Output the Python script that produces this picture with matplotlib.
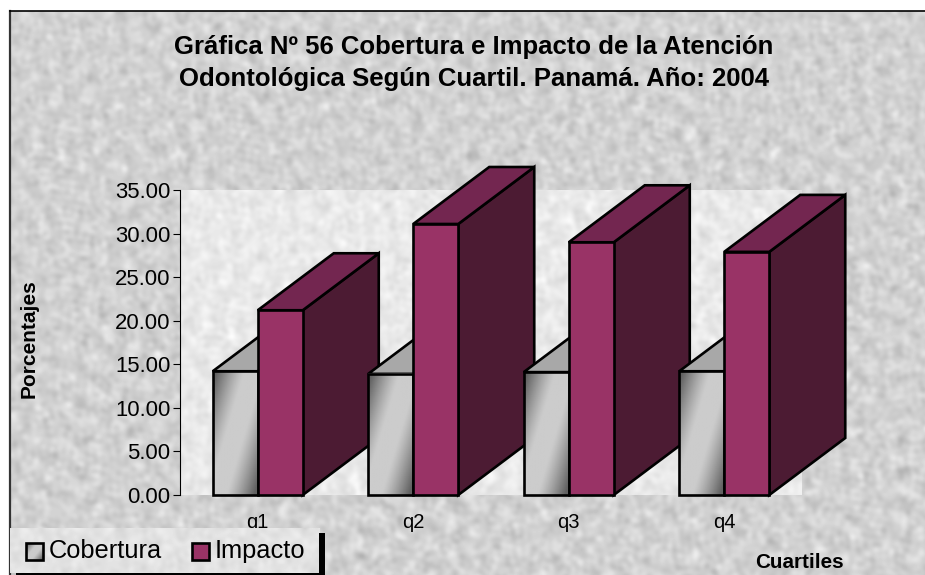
import numpy as np
import matplotlib
matplotlib.use("Agg")
import matplotlib.pyplot as plt
from matplotlib.patches import Polygon, Rectangle

plt.rcParams['font.family'] = ['Liberation Sans', 'DejaVu Sans']

categories = ['q1', 'q2', 'q3', 'q4']
cobertura = [14.2, 13.9, 14.1, 14.2]
impacto = [21.2, 31.1, 29.0, 27.9]
series_names = ['Cobertura', 'Impacto']
yticks = [0, 5, 10, 15, 20, 25, 30, 35]
title = 'Gráfica Nº 56 Cobertura e Impacto de la Atención\nOdontológica Según Cuartil. Panamá. Año: 2004'
xlabel = 'Cuartiles'
ylabel = 'Porcentajes'

W, H = 925, 575
IMP_FRONT, IMP_TOP, IMP_SIDE = '#993366', '#732650', '#4c1b33'
COB_TOP = '#a8a8a8'
LW = 1.9


def frac_hash(k, a, b):
    v = np.sin(k * a) * b
    return v - np.floor(v)


def texture(h, w, mean, amp):
    """Deterministic mottled paper texture built from fixed, hash-scattered sine waves."""
    yy, xx = np.mgrid[0:h, 0:w]
    out = np.zeros((h, w))
    for k in range(1, 320):
        ang = 2 * np.pi * frac_hash(k, 12.9898, 43758.5453)
        mag = 0.03 + 0.11 * frac_hash(k, 78.233, 24634.6345)
        ph = 2 * np.pi * frac_hash(k, 37.719, 13579.1357)
        weight = 0.05 / mag
        out += weight * np.sin(2 * np.pi * mag * (np.cos(ang) * xx + np.sin(ang) * yy) + ph)
    out = out / out.std()
    return np.clip(mean + amp * out, 0, 255) / 255


def px_axes(fig, x0, y0, x1, y1, **kw):
    return fig.add_axes([x0 / W, 1 - y1 / H, (x1 - x0) / W, (y1 - y0) / H], **kw)


def gradient(n=64):
    v, u = np.mgrid[0:1:n * 1j, 0:1:n * 1j]   # v=0 at image top
    d = np.abs(u * 0.55 + v * 0.45 - 0.5) * 2
    return 0.80 - 0.42 * np.clip((d - 0.22) / 0.70, 0, 1) ** 1.2


fig = plt.figure(figsize=(W / 100, H / 100), dpi=100, facecolor='white')

# chart-area background and border
bg = px_axes(fig, 10, 11, W, H, zorder=0)
bg.imshow(texture(H - 11, W - 10, 209, 7), cmap='gray', vmin=0, vmax=1, aspect='auto')
bg.set_xticks([]); bg.set_yticks([])
for s in ['right', 'bottom']:
    bg.spines[s].set_visible(False)
bg.spines['top'].set_linewidth(1.2)
bg.spines['left'].set_linewidth(1.6)
bg.spines['left'].set_color('#333333')

# plot
ax = px_axes(fig, 180, 190, 802, 495, zorder=1)
ax.patch.set_visible(False)
ax.imshow(texture(305, 622, 233, 5), cmap='gray', vmin=0, vmax=1, aspect='auto',
          extent=(-0.5, 3.5, 0, 35), zorder=0)

cat_px = 622 / 4
bw = 45 / cat_px
ddx = 76 / cat_px
ddy = 57 / (305 / 35)
z = 2
for i, (c, m) in enumerate(zip(cobertura, impacto)):
    # Cobertura: top, gradient front
    ax.add_patch(Polygon([(i - bw, c), (i, c), (i + ddx, c + ddy), (i - bw + ddx, c + ddy)],
                         closed=True, fc=COB_TOP, ec='black', lw=LW, zorder=z, clip_on=False,
                         joinstyle='miter'))
    ax.imshow(gradient(), cmap='gray', vmin=0, vmax=1, aspect='auto',
              extent=(i - bw, i, 0, c), zorder=z + 0.1)
    ax.bar(i - bw / 2, c, bw, fc='none', ec='black', lw=LW, zorder=z + 0.2, clip_on=False)
    # Impacto: side, top, front
    ax.add_patch(Polygon([(i + bw, 0), (i + bw + ddx, ddy), (i + bw + ddx, m + ddy), (i + bw, m)],
                         closed=True, fc=IMP_SIDE, ec='black', lw=LW, zorder=z + 0.3, clip_on=False,
                         joinstyle='miter'))
    ax.add_patch(Polygon([(i, m), (i + bw, m), (i + bw + ddx, m + ddy), (i + ddx, m + ddy)],
                         closed=True, fc=IMP_TOP, ec='black', lw=LW, zorder=z + 0.4, clip_on=False,
                         joinstyle='miter'))
    ax.bar(i + bw / 2, m, bw, fc=IMP_FRONT, ec='black', lw=LW, zorder=z + 0.5, clip_on=False)
    z += 1

ax.set_xlim(-0.5, 3.5)
ax.set_ylim(0, 35)
ax.set_yticks(yticks)
ax.set_yticklabels([f'{t:.2f}' for t in yticks], fontsize=15.9)
ax.tick_params(axis='y', length=5, width=0.8, pad=2, color='black')
ax.set_xticks(range(len(categories)))
ax.set_xticklabels(categories, fontsize=14.5)
ax.tick_params(axis='x', length=0, pad=13)
for s in ['top', 'right', 'bottom']:
    ax.spines[s].set_visible(False)
ax.spines['left'].set_linewidth(0.8)

# overlay in pixel coordinates: titles and legend
ov = px_axes(fig, 0, 0, W, H, zorder=5)
ov.set_xlim(0, W); ov.set_ylim(H, 0)
ov.axis('off')
ov.text(474, 63, title, ha='center', va='center', fontsize=18.5, fontweight='bold',
        linespacing=1.4, color='black')
ov.text(799, 563, xlabel, ha='center', va='center', fontsize=14.9, fontweight='bold')
ov.text(29, 339, ylabel, ha='center', va='center', rotation=90, fontsize=15, fontweight='bold')

ov.imshow(texture(45, 310, 226, 4), cmap='gray', vmin=0, vmax=1, aspect='auto',
          extent=(10, 320, 573, 528), zorder=1)
ov.add_patch(Rectangle((319, 533), 6, 42, fc='black', ec='none', zorder=2))
ov.add_patch(Rectangle((16, 573), 309, 2, fc='black', ec='none', zorder=2, clip_on=False))
ov.imshow(gradient(), cmap='gray', vmin=0, vmax=1, aspect='auto',
          extent=(26, 43, 560, 543), zorder=2)
ov.add_patch(Rectangle((26, 543), 17, 17, fc='none', ec='black', lw=LW, zorder=3))
ov.add_patch(Rectangle((192, 543), 17, 17, fc=IMP_FRONT, ec='black', lw=LW, zorder=3))
ov.text(49, 551, series_names[0], ha='left', va='center', fontsize=18.3, zorder=3)
ov.text(215, 551, series_names[1], ha='left', va='center', fontsize=18.3, zorder=3)
ov.set_xlim(0, W); ov.set_ylim(H, 0)

fig.savefig('out.png', dpi=100, facecolor='white')
